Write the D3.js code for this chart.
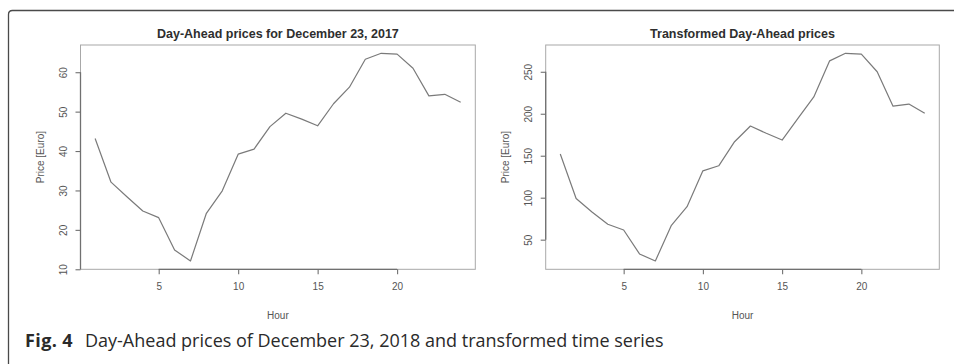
<!DOCTYPE html>
<html>
<head>
<meta charset="utf-8">
<script src="https://cdn.jsdelivr.net/npm/d3@7"></script>
<style>
  html, body { margin: 0; padding: 0; background: #fff; }
  svg { display: block; }
</style>
</head>
<body>
<svg id="fig" width="954" height="364"></svg>
<script>
// Hourly day-ahead prices (Euro) for December 23, 2017
const hours = d3.range(1, 25);
const rawPrices = [43.2, 32.1, 28.4, 24.8, 23.1, 14.9, 12.1, 24.2, 29.9, 39.2, 40.5, 46.2,
                   49.6, 48.1, 46.4, 52.0, 56.2, 63.3, 64.8, 64.6, 61.0, 54.0, 54.4, 52.4];
// The same series after transformation
const transformedPrices = [152, 99, 83, 68.3, 61.5, 33, 24.6, 66.7, 89.3, 132, 138, 166.7,
                           185.4, 176.7, 168.7, 194.5, 220, 263, 272, 271, 250, 209, 211.5, 200.5];

const xTicks = [5, 10, 15, 20];
const rawTicks = [10, 20, 30, 40, 50, 60];
const transformedTicks = [50, 100, 150, 200, 250];

const panelTitles = ["Day-Ahead prices for December 23, 2017", "Transformed Day-Ahead prices"];
const xLabel = "Hour";
const yLabel = "Price [Euro]";
const captionBold = "Fig. 4";
const captionText = "Day-Ahead prices of December 23, 2018 and transformed time series";

const svg = d3.select("#fig");

// Outer figure frame: rounded corner at top-left, open to the right and bottom
svg.append("path")
  .attr("d", "M8.5,364 L8.5,14.5 Q8.5,10.5 12.5,10.5 L954,10.5")
  .attr("fill", "none")
  .attr("stroke", "#4a4a4a")
  .attr("stroke-width", 1.3);

// R-style padded extent (4% on each side)
function padded(values) {
  const [lo, hi] = d3.extent(values);
  const p = (hi - lo) * 0.04;
  return [lo - p, hi + p];
}

function drawPanel(left, right, values, yTicks, title) {
  const top = 45, bottom = 269.3;
  const x = d3.scaleLinear().domain(padded(hours)).range([left, right]);
  const y = d3.scaleLinear().domain(padded(values)).range([bottom, top]);
  const g = svg.append("g");

  // plot box
  g.append("rect")
    .attr("x", left).attr("y", top)
    .attr("width", right - left).attr("height", bottom - top)
    .attr("fill", "none").attr("stroke", "#a8a8a8").attr("stroke-width", 1);

  // x axis
  const xAxis = g.append("g")
    .attr("transform", `translate(0,${bottom})`)
    .call(d3.axisBottom(x).tickValues(xTicks).tickSize(5).tickPadding(9).tickSizeOuter(0));
  xAxis.select(".domain")
    .attr("d", `M${x(xTicks[0])},0H${x(xTicks[xTicks.length - 1])}`)
    .attr("stroke", "#707070").attr("stroke-width", 1.3);
  xAxis.selectAll(".tick line").attr("stroke", "#707070").attr("stroke-width", 1.1);
  xAxis.selectAll(".tick text")
    .attr("fill", "#555").attr("font-family", "Liberation Sans, Arial, sans-serif")
    .attr("font-size", 10);

  // y axis with vertical tick labels
  const yAxis = g.append("g")
    .attr("transform", `translate(${left},0)`)
    .call(d3.axisLeft(y).tickValues(yTicks).tickSize(5).tickSizeOuter(0));
  yAxis.select(".domain")
    .attr("d", `M0,${y(yTicks[0])}V${y(yTicks[yTicks.length - 1])}`)
    .attr("stroke", "#707070").attr("stroke-width", 1.3);
  yAxis.selectAll(".tick line").attr("stroke", "#707070").attr("stroke-width", 1.1);
  yAxis.selectAll(".tick text")
    .attr("fill", "#555").attr("font-family", "Liberation Sans, Arial, sans-serif")
    .attr("font-size", 10)
    .attr("x", null).attr("dy", "0")
    .attr("text-anchor", "middle")
    .attr("dominant-baseline", "central")
    .attr("transform", "translate(-17,0) rotate(-90)");

  // series line
  g.append("path")
    .datum(values)
    .attr("fill", "none")
    .attr("stroke", "#7a7a7a")
    .attr("stroke-width", 1.2)
    .attr("stroke-linejoin", "round")
    .attr("d", d3.line().x((d, i) => x(hours[i])).y(d => y(d)));

  // title
  g.append("text")
    .attr("x", (left + right) / 2).attr("y", 37.5)
    .attr("text-anchor", "middle")
    .attr("font-family", "Liberation Sans, Arial, sans-serif")
    .attr("font-weight", "bold").attr("font-size", 12.5)
    .attr("fill", "#2e2e2e")
    .text(title);

  // axis labels
  g.append("text")
    .attr("x", (left + right) / 2).attr("y", 318.5)
    .attr("text-anchor", "middle")
    .attr("font-family", "Liberation Sans, Arial, sans-serif")
    .attr("font-size", 10).attr("fill", "#555")
    .text(xLabel);
  g.append("text")
    .attr("transform", `translate(${left - 40},${(top + bottom) / 2}) rotate(-90)`)
    .attr("text-anchor", "middle")
    .attr("dominant-baseline", "central")
    .attr("font-family", "Liberation Sans, Arial, sans-serif")
    .attr("font-size", 10).attr("fill", "#555")
    .text(yLabel);
}

drawPanel(80.5, 475.3, rawPrices, rawTicks, panelTitles[0]);
drawPanel(545.7, 939.3, transformedPrices, transformedTicks, panelTitles[1]);

// caption
const cap = svg.append("text")
  .attr("x", 25).attr("y", 347)
  .attr("font-family", "Open Sans, Noto Sans, sans-serif")
  .attr("font-size", 18).attr("fill", "#2a2a2a");
cap.append("tspan").attr("font-weight", "bold").attr("letter-spacing", 0.4).text(captionBold);
cap.append("tspan").attr("x", 85).text(captionText);
</script>
</body>
</html>
